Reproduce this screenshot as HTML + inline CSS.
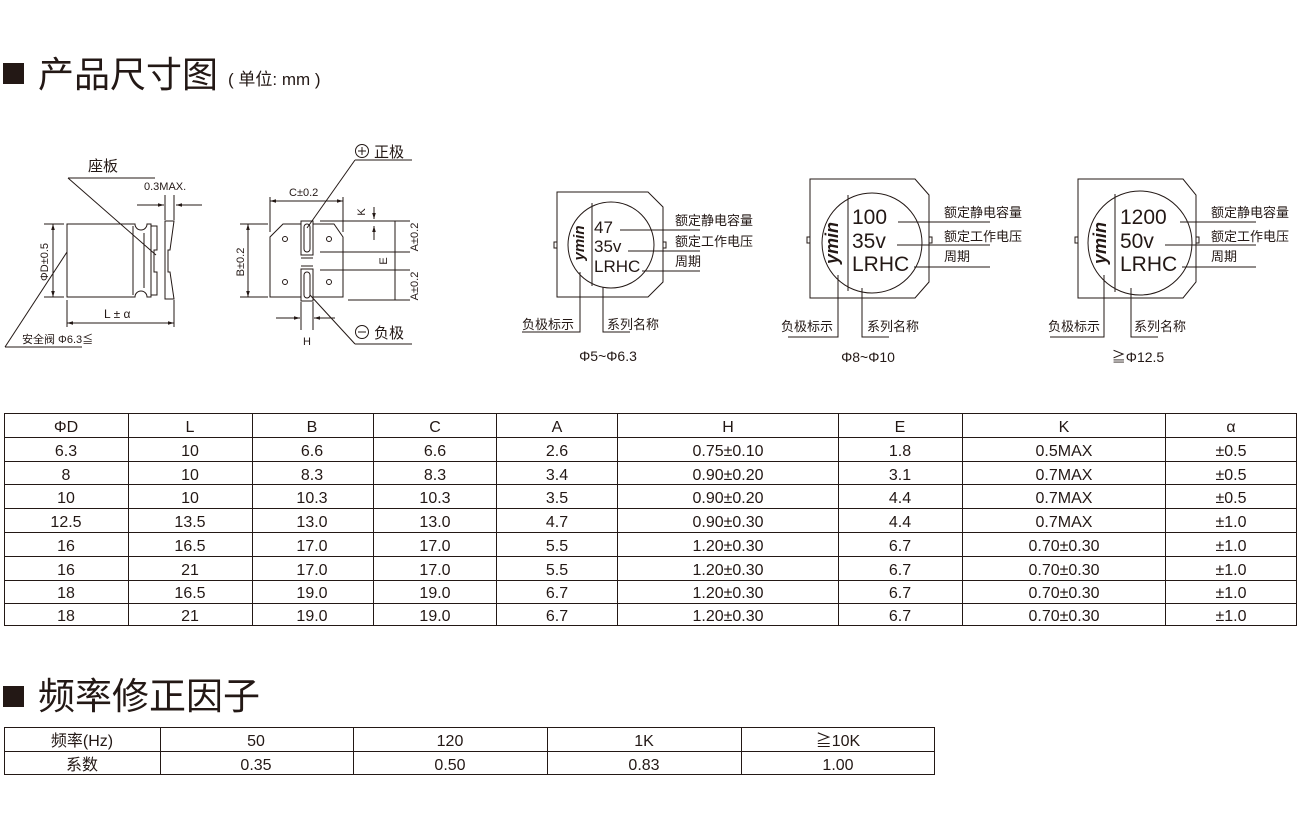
<!DOCTYPE html>
<html><head><meta charset="utf-8"><style>
body{margin:0;background:#fff}
svg{display:block}
text{font-family:"Liberation Sans","Noto Sans CJK SC",sans-serif;fill:#231815}
</style></head><body>
<svg width="1300" height="825" viewBox="0 0 1300 825" xmlns="http://www.w3.org/2000/svg">
<defs>
<marker id="ar" viewBox="0 0 10 10" refX="10" refY="5" markerWidth="6" markerHeight="6" orient="auto-start-reverse"><path d="M0,2 L10,5 L0,8 z" fill="#231815"/></marker>
</defs>
<!-- headers -->
<rect x="3" y="63" width="21" height="21" fill="#231815"/>
<text x="38" y="87" font-size="36">产品尺寸图</text>
<text x="228" y="85" font-size="17">( 单位: mm )</text>
<rect x="3" y="686" width="21" height="21" fill="#231815"/>
<text x="38" y="709" font-size="37">频率修正因子</text>

<g stroke="#231815" stroke-width="1" fill="none">
<!-- left side view -->
<path d="M67,224 H135 A6,6 0 0 0 147,224 H151 V297 H147 A6,6 0 0 0 135,297 H67 Z"/>
<line x1="133" y1="226" x2="133" y2="295"/>
<line x1="144" y1="233" x2="144" y2="288"/>
<path d="M151,226 H157 V250 H154 V272 H157 V295 H151"/>
<path d="M165,221 H174 L170,250 H168 V272 H170 L174,299 H165 Z"/>
<line x1="53" y1="224" x2="53" y2="297" marker-start="url(#ar)" marker-end="url(#ar)"/>
<line x1="44" y1="224" x2="64" y2="224"/><line x1="44" y1="297" x2="64" y2="297"/>
<line x1="67" y1="323" x2="174" y2="323" marker-start="url(#ar)" marker-end="url(#ar)"/>
<line x1="67" y1="300" x2="67" y2="327"/><line x1="174" y1="300" x2="174" y2="327"/>
<line x1="68" y1="178" x2="155" y2="178"/><line x1="68" y1="178" x2="156" y2="255"/>
<line x1="137" y1="205" x2="164" y2="205" marker-end="url(#ar)"/>
<line x1="202" y1="205" x2="176" y2="205" marker-end="url(#ar)"/>
<line x1="165" y1="195" x2="165" y2="220"/><line x1="174" y1="195" x2="174" y2="220"/>
<line x1="5" y1="347" x2="82" y2="347"/><line x1="5" y1="347" x2="67" y2="252"/>
<!-- bottom view -->
<path d="M313,224 H334 L343,237 V297 H313 M301,297 H270 V237 L283,224 H301"/>
<rect x="301" y="221" width="12" height="34"/>
<rect x="301" y="269" width="12" height="32"/>
<rect x="304" y="224" width="6" height="28" rx="3"/>
<rect x="304" y="272" width="6" height="26" rx="3"/>
<line x1="301" y1="258" x2="313" y2="258"/><line x1="301" y1="266" x2="313" y2="266"/>
<circle cx="285" cy="239" r="2.5"/><circle cx="329" cy="239" r="2.5"/>
<circle cx="285" cy="282" r="2.5"/><circle cx="329" cy="282" r="2.5"/>
<line x1="270" y1="201" x2="343" y2="201" marker-start="url(#ar)" marker-end="url(#ar)"/>
<line x1="270" y1="197" x2="270" y2="232"/><line x1="343" y1="197" x2="343" y2="232"/>
<line x1="248" y1="224" x2="248" y2="297" marker-start="url(#ar)" marker-end="url(#ar)"/>
<line x1="240" y1="224" x2="268" y2="224"/><line x1="240" y1="297" x2="268" y2="297"/>
<line x1="320" y1="221" x2="410" y2="221"/><line x1="320" y1="252" x2="410" y2="252"/>
<line x1="320" y1="270" x2="410" y2="270"/><line x1="348" y1="300" x2="410" y2="300"/>
<line x1="395" y1="221" x2="395" y2="300"/>
<line x1="374" y1="207" x2="374" y2="219" marker-end="url(#ar)"/>
<line x1="374" y1="240" x2="374" y2="226" marker-end="url(#ar)"/>
<line x1="276" y1="318" x2="300" y2="318" marker-end="url(#ar)"/>
<line x1="335" y1="318" x2="314" y2="318" marker-end="url(#ar)"/>
<line x1="301" y1="302" x2="301" y2="330"/><line x1="313" y1="302" x2="313" y2="330"/>
<circle cx="362" cy="151" r="6.5"/><line x1="358" y1="151" x2="366" y2="151"/><line x1="362" y1="147" x2="362" y2="155"/>
<line x1="355" y1="160" x2="412" y2="160"/><line x1="355" y1="160" x2="307" y2="228"/>
<circle cx="362" cy="332" r="6.5"/><line x1="358" y1="332" x2="366" y2="332"/>
<line x1="355" y1="344" x2="412" y2="344"/><line x1="355" y1="344" x2="310" y2="295"/>

<!-- top view 1 -->
<path d="M557,192 H648 L663,207 V282 L648,297 H557 Z"/>
<rect x="554" y="242" width="3" height="6"/><rect x="663" y="242" width="3" height="6"/>
<circle cx="611" cy="245" r="43"/>
<line x1="592" y1="203" x2="592" y2="286"/>
<line x1="620" y1="230" x2="700" y2="230"/><line x1="628" y1="251" x2="700" y2="251"/><line x1="642" y1="271" x2="700" y2="271"/>
<polyline points="580,272 580,332 522,332"/><polyline points="603,287 603,332 630,332"/>
<!-- top view 2 -->
<path d="M810,179 H915 L929,195 V282 L915,298 H810 Z"/>
<rect x="807" y="237" width="3" height="6"/><rect x="929" y="237" width="3" height="6"/>
<circle cx="872" cy="243" r="50"/>
<line x1="848" y1="195" x2="848" y2="291"/>
<line x1="898" y1="222" x2="990" y2="222"/><line x1="897" y1="245" x2="990" y2="245"/><line x1="914" y1="267" x2="990" y2="267"/>
<polyline points="838,275 838,337 788,337"/><polyline points="862,288 862,337 889,337"/>
<!-- top view 3 -->
<path d="M1078,179 H1183 L1196,195 V282 L1183,298 H1078 Z"/>
<rect x="1075" y="237" width="3" height="6"/><rect x="1196" y="237" width="3" height="6"/>
<circle cx="1140" cy="243" r="52"/>
<line x1="1115" y1="194" x2="1115" y2="292"/>
<line x1="1180" y1="222" x2="1256" y2="222"/><line x1="1165" y1="245" x2="1256" y2="245"/><line x1="1182" y1="267" x2="1256" y2="267"/>
<polyline points="1104,275 1104,337 1050,337"/><polyline points="1131,288 1131,337 1158,337"/>
</g>

<!-- diagram labels -->
<text x="88" y="171" font-size="15">座板</text>
<text x="144" y="190" font-size="11">0.3MAX.</text>
<text x="22" y="343" font-size="11">安全阀  Φ6.3≦</text>
<text x="104" y="318" font-size="12">L ± α</text>
<text transform="translate(48,262) rotate(-90)" font-size="11" text-anchor="middle">ΦD±0.5</text>
<text x="289" y="196" font-size="11">C±0.2</text>
<text transform="translate(244,262) rotate(-90)" font-size="11" text-anchor="middle">B±0.2</text>
<text transform="translate(418,237) rotate(-90)" font-size="11" text-anchor="middle">A±0.2</text>
<text transform="translate(418,286) rotate(-90)" font-size="11" text-anchor="middle">A±0.2</text>
<text transform="translate(387,261) rotate(-90)" font-size="11" text-anchor="middle">E</text>
<text transform="translate(365,212) rotate(-90)" font-size="11" text-anchor="middle">K</text>
<text x="303" y="345" font-size="11">H</text>
<text x="374" y="157" font-size="15">正极</text>
<text x="374" y="338" font-size="15">负极</text>

<text x="594" y="233" font-size="17">47</text>
<text x="594" y="252" font-size="17">35v</text>
<text x="594" y="272" font-size="17">LRHC</text>
<text transform="translate(584,243) rotate(-90)" font-size="15" font-weight="bold" font-style="italic" text-anchor="middle">ymin</text>
<text x="675" y="225" font-size="13">额定静电容量</text>
<text x="675" y="246" font-size="13">额定工作电压</text>
<text x="675" y="266" font-size="13">周期</text>
<text x="522" y="329" font-size="13">负极标示</text>
<text x="607" y="329" font-size="13">系列名称</text>
<text x="608" y="361" font-size="14" text-anchor="middle">Φ5~Φ6.3</text>

<text x="852" y="224" font-size="21">100</text>
<text x="852" y="248" font-size="21">35v</text>
<text x="852" y="271" font-size="21">LRHC</text>
<text transform="translate(838,243) rotate(-90)" font-size="18" font-weight="bold" font-style="italic" text-anchor="middle">ymin</text>
<text x="944" y="217" font-size="13">额定静电容量</text>
<text x="944" y="241" font-size="13">额定工作电压</text>
<text x="944" y="261" font-size="13">周期</text>
<text x="781" y="331" font-size="13">负极标示</text>
<text x="867" y="331" font-size="13">系列名称</text>
<text x="868" y="362" font-size="14" text-anchor="middle">Φ8~Φ10</text>

<text x="1120" y="224" font-size="21">1200</text>
<text x="1120" y="248" font-size="21">50v</text>
<text x="1120" y="271" font-size="21">LRHC</text>
<text transform="translate(1106,243) rotate(-90)" font-size="18" font-weight="bold" font-style="italic" text-anchor="middle">ymin</text>
<text x="1211" y="217" font-size="13">额定静电容量</text>
<text x="1211" y="241" font-size="13">额定工作电压</text>
<text x="1211" y="261" font-size="13">周期</text>
<text x="1048" y="331" font-size="13">负极标示</text>
<text x="1134" y="331" font-size="13">系列名称</text>
<text x="1138" y="362" font-size="14" text-anchor="middle">≧Φ12.5</text>

<!-- main table -->
<g stroke="#231815" stroke-width="1" fill="none">
<rect x="4.5" y="413.5" width="1292" height="212"/>
<path d="M5,437.5H1297M5,461.5H1297M5,484.5H1297M5,508.5H1297M5,532.5H1297M5,556.5H1297M5,580.5H1297M5,603.5H1297"/>
<path d="M128.5,413V626M252.5,413V626M373.5,413V626M496.5,413V626M617.5,413V626M838.5,413V626M962.5,413V626M1165.5,413V626"/>
</g>
<g font-size="16" text-anchor="middle">
<g transform="translate(0,432)">
<text x="66">ΦD</text><text x="190">L</text><text x="312">B</text><text x="435">C</text><text x="557">A</text><text x="728">H</text><text x="900">E</text><text x="1064">K</text><text x="1231">α</text></g>
<g transform="translate(0,456)"><text x="66">6.3</text><text x="190">10</text><text x="312">6.6</text><text x="435">6.6</text><text x="557">2.6</text><text x="728">0.75±0.10</text><text x="900">1.8</text><text x="1064">0.5MAX</text><text x="1231">±0.5</text></g>
<g transform="translate(0,480)"><text x="66">8</text><text x="190">10</text><text x="312">8.3</text><text x="435">8.3</text><text x="557">3.4</text><text x="728">0.90±0.20</text><text x="900">3.1</text><text x="1064">0.7MAX</text><text x="1231">±0.5</text></g>
<g transform="translate(0,503)"><text x="66">10</text><text x="190">10</text><text x="312">10.3</text><text x="435">10.3</text><text x="557">3.5</text><text x="728">0.90±0.20</text><text x="900">4.4</text><text x="1064">0.7MAX</text><text x="1231">±0.5</text></g>
<g transform="translate(0,527)"><text x="66">12.5</text><text x="190">13.5</text><text x="312">13.0</text><text x="435">13.0</text><text x="557">4.7</text><text x="728">0.90±0.30</text><text x="900">4.4</text><text x="1064">0.7MAX</text><text x="1231">±1.0</text></g>
<g transform="translate(0,551)"><text x="66">16</text><text x="190">16.5</text><text x="312">17.0</text><text x="435">17.0</text><text x="557">5.5</text><text x="728">1.20±0.30</text><text x="900">6.7</text><text x="1064">0.70±0.30</text><text x="1231">±1.0</text></g>
<g transform="translate(0,575)"><text x="66">16</text><text x="190">21</text><text x="312">17.0</text><text x="435">17.0</text><text x="557">5.5</text><text x="728">1.20±0.30</text><text x="900">6.7</text><text x="1064">0.70±0.30</text><text x="1231">±1.0</text></g>
<g transform="translate(0,598)"><text x="66">18</text><text x="190">16.5</text><text x="312">19.0</text><text x="435">19.0</text><text x="557">6.7</text><text x="728">1.20±0.30</text><text x="900">6.7</text><text x="1064">0.70±0.30</text><text x="1231">±1.0</text></g>
<g transform="translate(0,621)"><text x="66">18</text><text x="190">21</text><text x="312">19.0</text><text x="435">19.0</text><text x="557">6.7</text><text x="728">1.20±0.30</text><text x="900">6.7</text><text x="1064">0.70±0.30</text><text x="1231">±1.0</text></g>
</g>

<!-- frequency table -->
<g stroke="#231815" stroke-width="1" fill="none">
<rect x="4.5" y="727.5" width="930" height="47"/>
<path d="M5,751.5H935M160.5,727V775M353.5,727V775M547.5,727V775M741.5,727V775"/>
</g>
<g font-size="16" text-anchor="middle">
<text x="82" y="746">频率(Hz)</text><text x="256" y="746">50</text><text x="450" y="746">120</text><text x="644" y="746">1K</text><text x="838" y="746">≧10K</text>
<text x="82" y="770">系数</text><text x="256" y="770">0.35</text><text x="450" y="770">0.50</text><text x="644" y="770">0.83</text><text x="838" y="770">1.00</text>
</g>
</svg>
</body></html>
